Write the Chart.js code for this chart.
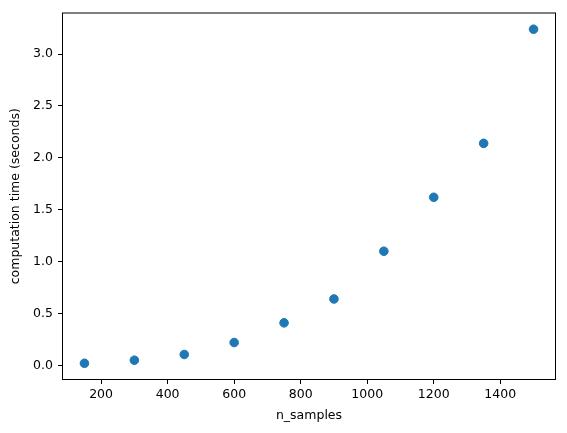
<!DOCTYPE html>
<html>
<head>
<meta charset="utf-8">
<script src="https://cdn.jsdelivr.net/npm/chart.js@4/dist/chart.umd.min.js"></script>
<style>
  html, body { margin: 0; padding: 0; background: #fff; }
  #wrap { width: 567px; height: 433px; }
</style>
</head>
<body>
<div id="wrap"><canvas id="chart" width="567" height="433"></canvas></div>
<script>
// DATI
const nSamples = [150, 300, 450, 600, 750, 900, 1050, 1200, 1350, 1500];
const compTime = [0.02, 0.05, 0.105, 0.22, 0.41, 0.64, 1.10, 1.62, 2.14, 3.24];
const xTicks = [200, 400, 600, 800, 1000, 1200, 1400];
const yTicks = [0.0, 0.5, 1.0, 1.5, 2.0, 2.5, 3.0];

// limiti come matplotlib (margine 5%)
const xPad = (Math.max(...nSamples) - Math.min(...nSamples)) * 0.05;
const yPad = (Math.max(...compTime) - Math.min(...compTime)) * 0.05;

const font = { family: 'DejaVu Sans', size: 12.5 };

// bordo del riquadro su tutti e quattro i lati
const frame = {
    id: 'frame',
    afterDraw(chart) {
        const { ctx, chartArea: a } = chart;
        ctx.save();
        ctx.strokeStyle = '#000';
        ctx.lineWidth = 1;
        ctx.strokeRect(a.left + 0.5, a.top + 0.5, a.right - a.left - 1, a.bottom - a.top - 1);
        ctx.restore();
    }
};

const ctx = document.getElementById('chart').getContext('2d');
new Chart(ctx, {
    type: 'scatter',
    data: {
        datasets: [{
            data: nSamples.map((x, i) => ({ x: x, y: compTime[i] })),
            backgroundColor: '#1f77b4',
            borderColor: '#1f77b4',
            borderWidth: 1,
            pointRadius: 4.3,
            pointHoverRadius: 4.3
        }]
    },
    options: {
        responsive: false,
        animation: false,
        layout: { padding: { left: 0, right: 11, top: 10, bottom: 0 } },
        plugins: { legend: { display: false }, tooltip: { enabled: false } },
        scales: {
            x: {
                type: 'linear',
                min: Math.min(...nSamples) - xPad,
                max: Math.max(...nSamples) + xPad,
                afterBuildTicks: s => { s.ticks = xTicks.map(v => ({ value: v })); },
                afterFit: s => { s.height = 53; },
                grid: { drawOnChartArea: false, drawTicks: true, tickLength: 4, color: '#000' },
                border: { display: false },
                ticks: { color: '#000', font: font, padding: 3, maxRotation: 0, autoSkip: false,
                         callback: v => String(v) },
                title: { display: true, text: 'n_samples', color: '#000', font: font,
                         padding: { top: 0, bottom: 10 } }
            },
            y: {
                type: 'linear',
                min: Math.min(...compTime) - yPad,
                max: Math.max(...compTime) + yPad,
                afterBuildTicks: s => { s.ticks = yTicks.map(v => ({ value: v })); },
                afterFit: s => { s.width = 62; },
                grid: { drawOnChartArea: false, drawTicks: true, tickLength: 4, color: '#000' },
                border: { display: false },
                ticks: { color: '#000', font: font, padding: 5, autoSkip: false,
                         callback: v => v.toFixed(1) },
                title: { display: true, text: 'computation time (seconds)', color: '#000', font: font,
                         padding: { top: 8, bottom: 0 } }
            }
        }
    },
    plugins: [frame]
});
</script>
</body>
</html>
